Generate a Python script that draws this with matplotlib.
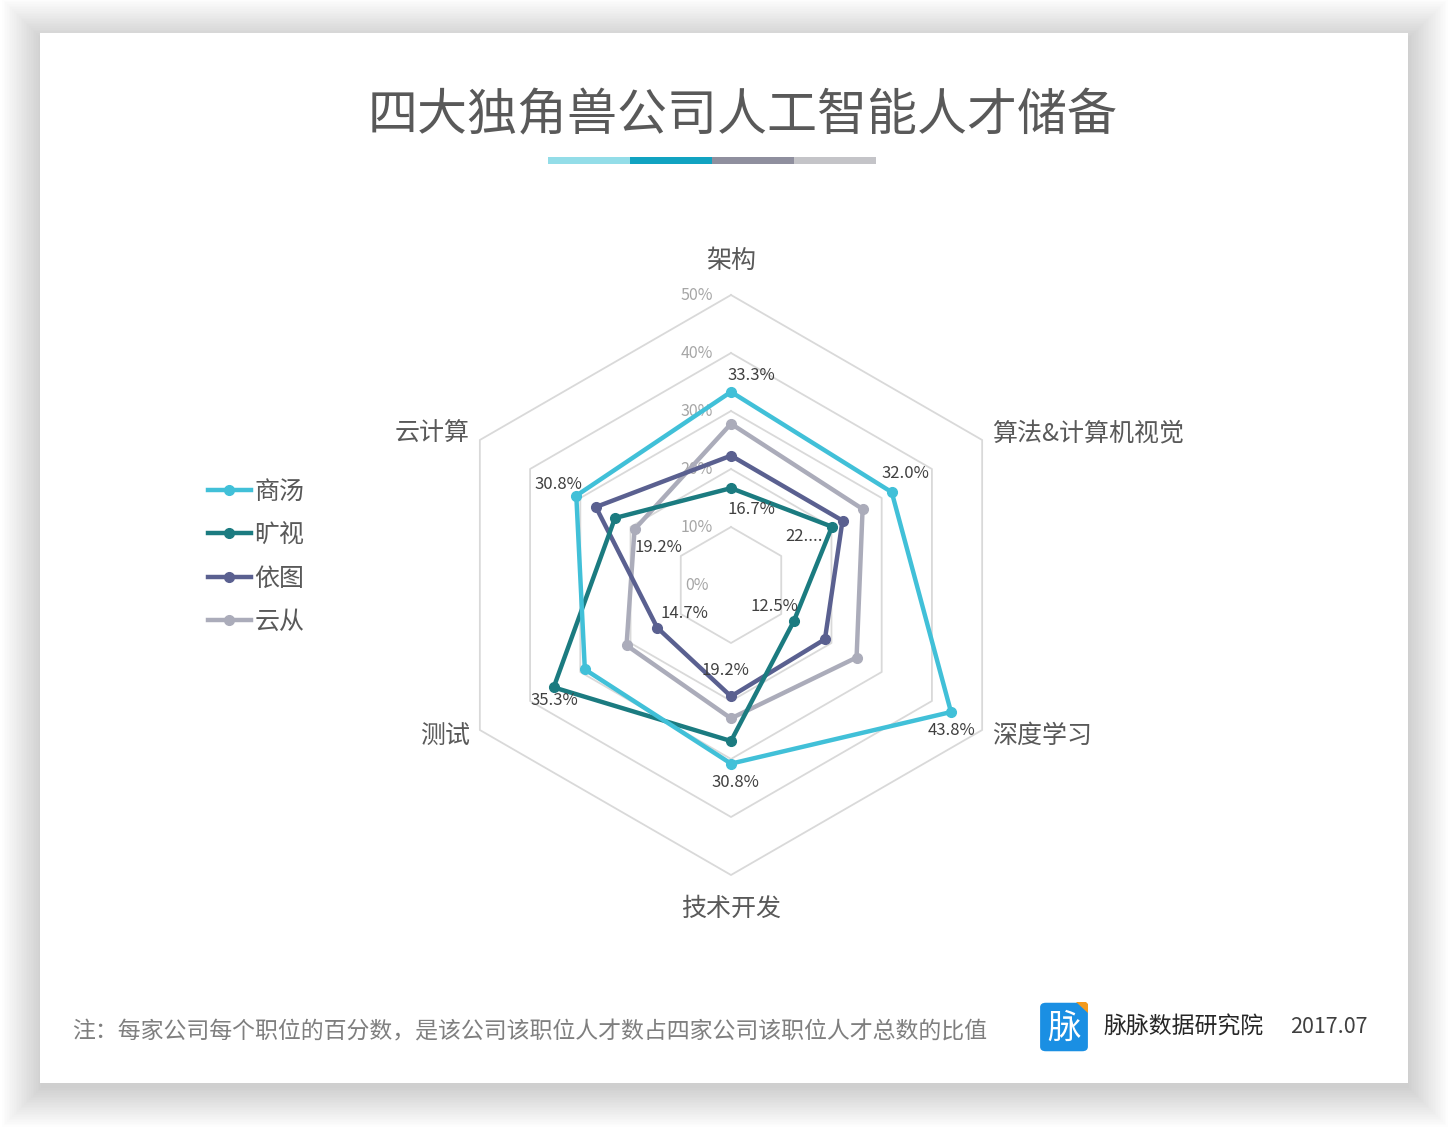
import numpy as np
import matplotlib
matplotlib.use("Agg")
import matplotlib.pyplot as plt
from matplotlib.patches import Rectangle, FancyBboxPatch, Polygon
from matplotlib.lines import Line2D

plt.rcParams['font.family'] = ['Noto Sans CJK SC', 'DejaVu Sans']

# data
categories = ["架构", "算法&计算机视觉", "深度学习", "技术开发", "测试", "云计算"]
companies = ["商汤", "旷视", "依图", "云从"]
shangtang = [33.3, 32.0, 43.8, 30.8, 29.1, 30.8]
kuangshi = [16.7, 20.1, 12.5, 26.9, 35.3, 23.1]
yitu = [22.3, 22.2, 18.7, 19.2, 14.7, 26.9]
yuncong = [27.8, 26.2, 25.0, 23.0, 20.8, 19.2]
# shown data labels (Excel style, some truncated / hidden)
labels_shangtang = ["33.3%", "32.0%", "43.8%", "30.8%", "", "30.8%"]
labels_kuangshi = ["16.7%", "22....", "12.5%", "", "35.3%", ""]
labels_yitu = ["", "", "", "19.2%", "14.7%", ""]
labels_yuncong = ["", "", "", "", "", "19.2%"]
ticks = [0, 10, 20, 30, 40, 50]

colors = ["#41c0d8", "#1b7b80", "#5a6090", "#abacba"]
# label offsets in pixels (dx, dy), per series / category
offsets = {
    0: {0: (20, 16), 1: (14, 19), 2: (0, -18), 3: (4, -19), 5: (-18, 11)},
    1: {0: (20, -21), 1: (-28, -10), 2: (-19, 15), 4: (1, -13)},
    2: {3: (-6, 26), 4: (27, 14)},
    3: {5: (24, -18)},
}

W, H = 1448, 1129
fig = plt.figure(figsize=(W / 100, H / 100), dpi=100)
fig.patch.set_facecolor("white")

def fx(x):
    return x / W

def fy(y):
    return 1 - y / H

# card shadow
cx0, cy0, cx1, cy1 = 40, 33, 1408, 1083
for i in range(24):
    g = i * 1.7
    fig.add_artist(Rectangle((fx(cx0 - g + 1), fy(cy1 + g + 5)), (cx1 - cx0 + 2 * g) / W,
                             (cy1 - cy0 + 2 * g) / H, transform=fig.transFigure,
                             facecolor="black", edgecolor="none", alpha=0.009, zorder=-3))
fig.add_artist(Rectangle((fx(cx0), fy(cy1)), (cx1 - cx0) / W, (cy1 - cy0) / H,
                         transform=fig.transFigure, facecolor="white", edgecolor="none", zorder=-2))

# radar axes
CX, CY, RPX = 731, 585, 290
half = 430
lim = half / RPX * 50
ax = fig.add_axes([fx(CX - half), fy(CY + half), 2 * half / W, 2 * half / H])
ax.set_zorder(2)
ax.set_xlim(-lim, lim)
ax.set_ylim(-lim, lim)
ax.set_aspect("equal")
ax.axis("off")
ax.patch.set_alpha(0)

n = len(categories)
angles = np.pi / 2 - np.arange(n) * 2 * np.pi / n

for t in ticks:
    xs = np.append(t * np.cos(angles), t * np.cos(angles[0]))
    ys = np.append(t * np.sin(angles), t * np.sin(angles[0]))
    ax.plot(xs, ys, color="#d9d9d9", lw=1.3, zorder=1)
    ax.text(-5.9, t, f"{t}%", ha="center", va="center", fontsize=11.5, color="#a6a6a6", zorder=2)

series = [shangtang, kuangshi, yitu, yuncong]
labels = [labels_shangtang, labels_kuangshi, labels_yitu, labels_yuncong]
for k, (vals, c) in enumerate(zip(series, colors)):
    v = np.array(vals)
    xs = v * np.cos(angles)
    ys = v * np.sin(angles)
    z = 10 - k
    ax.plot(np.append(xs, xs[0]), np.append(ys, ys[0]), color=c, lw=3.2, zorder=z,
            solid_joinstyle="miter")
    ax.plot(xs, ys, "o", color=c, ms=7, zorder=z)
for k, (vals, labs) in enumerate(zip(series, labels)):
    for i, lab in enumerate(labs):
        if not lab:
            continue
        dx, dy = offsets[k][i]
        ax.annotate(lab, (vals[i] * np.cos(angles[i]), vals[i] * np.sin(angles[i])),
                    xytext=(dx * 0.72, dy * 0.72), textcoords="offset points",
                    ha="center", va="center", fontsize=12, color="#404040", zorder=20)

# category labels
for i, cat in enumerate(categories):
    a = angles[i]
    if abs(np.cos(a)) < 0.1:
        r, ha = 55.8, "center"
    else:
        r = 52
        ha = "left" if np.cos(a) > 0 else "right"
    ax.text(r * np.cos(a), r * np.sin(a), cat, ha=ha, va="center", fontsize=18,
            color="#595959", fontweight="light")

# legend
handles = [Line2D([0], [0], color=c, lw=3.2, marker="o", ms=7) for c in colors]
leg = fig.legend(handles, companies, loc="center left", bbox_to_anchor=(fx(208), fy(557)),
                 frameon=False, prop={"size": 18, "weight": "light"}, handlelength=1.7,
                 handletextpad=0.15, labelspacing=0.7, labelcolor="#595959",
                 borderaxespad=0, borderpad=0)
leg.set_zorder(5)

# title
fig.text(fx(743), fy(116), "四大独角兽公司人工智能人才储备", ha="center", va="center",
         fontsize=36, color="#595959", fontweight="light", zorder=5)
bar_colors = ["#93dde8", "#11a3c1", "#8f8f9e", "#c4c4c8"]
for i, bc in enumerate(bar_colors):
    fig.add_artist(Rectangle((fx(548 + 82 * i), fy(164)), 82 / W, 7 / H,
                             transform=fig.transFigure, facecolor=bc, edgecolor="none", zorder=5))

# footnote
fig.text(fx(72), fy(1032), "注：每家公司每个职位的百分数，是该公司该职位人才数占四家公司该职位人才总数的比值",
         ha="left", va="center", fontsize=16.5, color="#7f7f7f", fontweight="light", zorder=5)

# logo
fig.add_artist(FancyBboxPatch((fx(1043), fy(1049)), 42 / W, 44 / H,
                              boxstyle="round,pad=0.002,rounding_size=0.004",
                              transform=fig.transFigure, facecolor="#1a8fe3",
                              edgecolor="none", zorder=5))
fig.add_artist(Polygon([(fx(1076), fy(1002)), (fx(1086), fy(1002)), (fx(1088), fy(1004)),
                        (fx(1088), fy(1013))], closed=True, transform=fig.transFigure,
                       facecolor="#f39a1e", edgecolor="none", zorder=6))
fig.text(fx(1064), fy(1028), "脉", ha="center", va="center", fontsize=24, color="white", zorder=7)
fig.text(fx(1103), fy(1027), "脉脉数据研究院", ha="left", va="center", fontsize=16.5,
         color="#262626", zorder=5)
fig.text(fx(1290), fy(1027), "2017.07", ha="left", va="center", fontsize=15.5,
         color="#404040", fontweight="light", zorder=5)

fig.savefig("out.png", dpi=100, facecolor="white")
